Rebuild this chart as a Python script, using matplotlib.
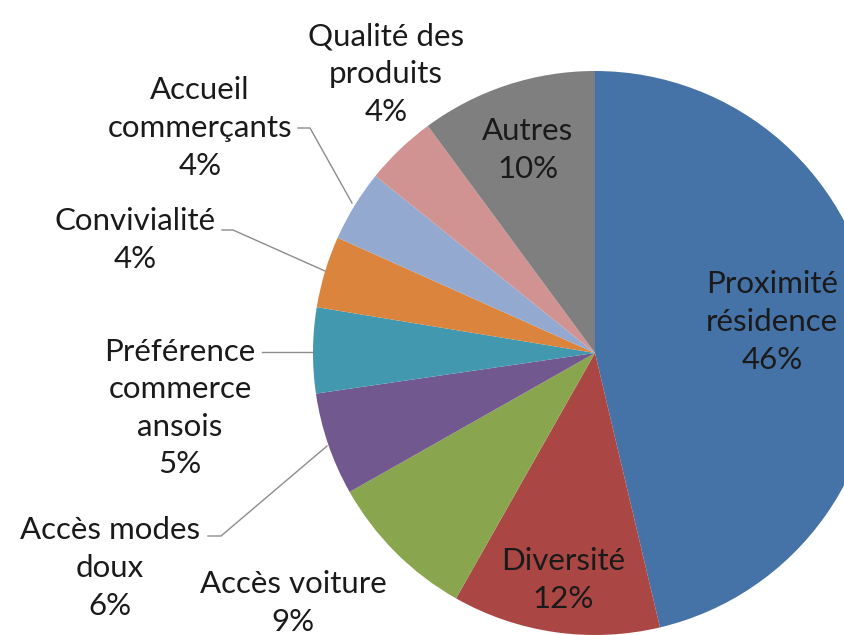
import matplotlib.pyplot as plt

# slice data, clockwise from 12 o'clock
labels = ["Proximité\nrésidence", "Diversité", "Accès voiture", "Accès modes\ndoux",
          "Préférence\ncommerce\nansois", "Convivialité", "Accueil\ncommerçants",
          "Qualité des\nproduits", "Autres"]
values = [46.3, 11.9, 8.6, 5.9, 4.9, 4.1, 4.1, 4.1, 10.1]
shown_pct = [46, 12, 9, 6, 5, 4, 4, 4, 10]
colors = ["#4572A7", "#AA4643", "#89A54E", "#71588F", "#4198AF",
          "#DB843D", "#93A9CF", "#D19392", "#7F7F7F"]

W, H = 845, 635
fig = plt.figure(figsize=(W / 100, H / 100), dpi=100)
ax = fig.add_axes([0, 0, 1, 1])

cx, cy, r = 595, H - 353, 282
ax.pie(values, colors=colors, startangle=90, counterclock=False,
       center=(cx, cy), radius=r, wedgeprops=dict(linewidth=0))
ax.set_xlim(0, W)
ax.set_ylim(0, H)
ax.set_aspect("equal")
ax.axis("off")

# label positions in pixel coords (x, y from top)
label_pos = [(772, 322), (563, 580), (293, 603), (110, 568), (180, 408),
             (135, 240), (200, 128), (386, 74), (528, 150)]

for lab, pct, (x, y) in zip(labels, shown_pct, label_pos):
    ax.text(x, H - y, f"{lab}\n{pct}%", ha="center", va="center",
            fontsize=22.5, family="Lato", linespacing=1.42, color="#1a1a1a")

# leader lines
leaders = [
    [(298, 128), (310, 128), (352, 203)],
    [(222, 230), (233, 230), (325, 271)],
    [(262, 352), (312, 352)],
    [(208, 536), (221, 536), (327, 446)],
]
for pts in leaders:
    xs = [p[0] for p in pts]
    ys = [H - p[1] for p in pts]
    ax.plot(xs, ys, color="#8c8c8c", linewidth=1)

fig.savefig("out.png", dpi=100)
